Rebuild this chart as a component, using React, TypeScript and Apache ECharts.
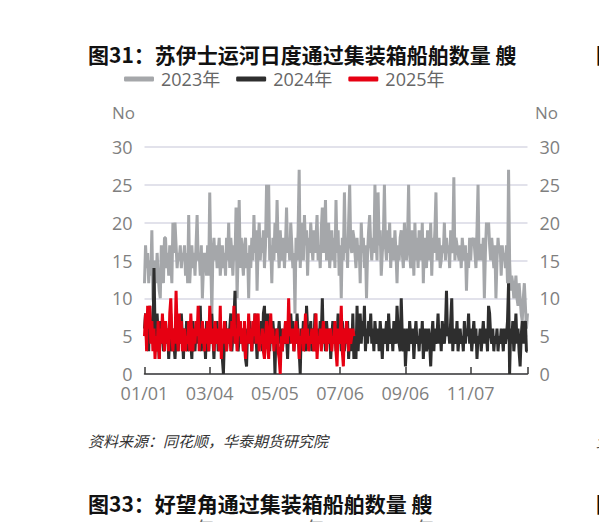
import React, { useEffect, useRef } from 'react';
import * as echarts from 'echarts';

// 2023年 日度通过数量（艘）
const Y2023 = [
  12, 17, 14, 16, 12, 15, 13, 19, 10, 9,
  15, 12, 16, 13, 11, 10, 17, 14, 12, 18,
  18, 14, 16, 13, 17, 15, 12, 20, 16, 20,
  17, 14, 16, 15, 17, 14, 16, 15, 17, 13,
  16, 12, 21, 12, 15, 17, 14, 16, 13, 17,
  21, 15, 16, 13, 17, 10, 14, 16, 15, 13,
  17, 13, 24, 15, 8, 16, 18, 15, 17, 14,
  16, 18, 13, 15, 17, 14, 16, 13, 18, 15,
  20, 14, 18, 16, 13, 17, 15, 22, 10, 16,
  23, 14, 18, 15, 13, 17, 18, 14, 16, 10,
  17, 14, 18, 15, 21, 16, 19, 11, 17, 20,
  15, 18, 16, 19, 14, 17, 25, 18, 25, 15,
  17, 12, 18, 15, 20, 16, 23, 17, 14, 19,
  16, 15, 18, 14, 17, 22, 16, 18, 15, 20,
  17, 14, 16, 8, 18, 15, 19, 27, 14, 18,
  20, 15, 21, 17, 19, 13, 18, 16, 20, 17,
  15, 19, 16, 18, 21, 15, 17, 14, 19, 22,
  16, 18, 23, 15, 17, 20, 14, 17, 19, 15,
  18, 14, 23, 16, 19, 13, 17, 10, 18, 15,
  24, 16, 18, 14, 20, 25, 17, 16, 19, 18,
  16, 14, 18, 15, 17, 12, 20, 16, 18, 14,
  17, 10, 16, 19, 21, 17, 15, 18, 16, 25,
  18, 15, 24, 17, 19, 13, 16, 18, 25, 17,
  15, 19, 16, 20, 14, 18, 17, 15, 19, 16,
  12, 17, 15, 18, 19, 16, 14, 20, 17, 15,
  18, 25, 16, 14, 19, 17, 13, 20, 15, 18,
  14, 19, 17, 15, 20, 12, 18, 16, 14, 19,
  17, 15, 20, 13, 18, 16, 19, 24, 15, 17,
  18, 14, 15, 17, 16, 20, 15, 18, 16, 17,
  14, 19, 16, 17, 26, 15, 18, 17, 16, 15,
  17, 14, 18, 16, 15, 17, 11, 16, 14, 18,
  15, 18, 17, 18, 16, 14, 19, 25, 15, 17,
  17, 15, 18, 10, 16, 20, 19, 20, 17, 15,
  18, 16, 14, 17, 10, 15, 18, 16, 17, 13,
  17, 15, 16, 14, 17, 12, 27, 15, 11, 13,
  12, 10, 11, 13, 10, 9, 12, 10, 8, 7,
  10, 12, 9, 6, 8,
];

// 2024年
const Y2024 = [
  6, 8, 4, 7, 3, 9, 5, 7, 4, 14,
  6, 3, 8, 5, 2, 7, 4, 6, 3, 5,
  7, 4, 6, 2, 5, 8, 3, 6, 4, 2,
  5, 7, 3, 6, 4, 8, 5, 2, 6, 4,
  7, 3, 5, 6, 4, 2, 7, 5, 3, 6,
  4, 7, 5, 9, 3, 6, 4, 5, 2, 7,
  5, 3, 6, 4, 8, 5, 2, 6, 4, 7,
  3, 5, 6, 4, 2, 0, 5, 7, 3, 6,
  4, 6, 8, 3, 5, 7, 11, 4, 6, 3,
  5, 7, 4, 6, 3, 5, 2, 1, 6, 4,
  7, 5, 3, 6, 4, 8, 5, 2, 6, 4,
  5, 7, 3, 8, 9, 4, 6, 8, 5, 3,
  6, 4, 7, 5, 0, 6, 3, 5, 7, 4,
  6, 3, 5, 4, 7, 5, 2, 6, 4, 8,
  5, 7, 3, 6, 4, 8, 5, 3, 0, 6,
  4, 7, 5, 3, 9, 6, 4, 5, 7, 3,
  6, 4, 8, 5, 3, 6, 4, 7, 5, 10,
  4, 6, 3, 7, 5, 4, 6, 2, 5, 7,
  4, 6, 3, 5, 8, 4, 6, 3, 7, 5,
  3, 6, 4, 7, 2, 5, 6, 3, 8, 2,
  5, 2, 9, 3, 6, 8, 4, 7, 5, 9,
  3, 6, 4, 7, 5, 8, 4, 6, 3, 7,
  5, 4, 6, 3, 7, 5, 2, 6, 4, 5,
  7, 3, 8, 5, 4, 6, 3, 7, 5, 4,
  9, 6, 4, 3, 10, 5, 3, 6, 1, 4,
  6, 3, 7, 5, 4, 6, 2, 5, 7, 4,
  5, 3, 6, 4, 7, 2, 5, 6, 3, 4,
  6, 4, 1, 5, 7, 3, 6, 4, 5, 8,
  4, 6, 3, 7, 5, 4, 6, 11, 5, 6,
  4, 7, 10, 3, 6, 5, 4, 7, 3, 5,
  6, 4, 5, 3, 7, 4, 6, 5, 8, 4,
  6, 3, 5, 7, 4, 6, 2, 5, 4, 6,
  3, 5, 7, 4, 6, 5, 3, 9, 8, 5,
  4, 6, 3, 5, 4, 6, 3, 5, 4, 6,
  5, 3, 6, 4, 5, 7, 12, 0, 6, 4,
  7, 3, 5, 8, 4, 6, 3, 1, 5, 7,
  4, 6, 7, 3, 3,
];

// 2025年（截至7月中旬）
const Y2025 = [
  5, 8, 3, 9, 6, 9, 4, 7, 3, 6,
  2, 5, 3, 7, 2, 6, 4, 8, 5, 3,
  7, 4, 6, 3, 8, 10, 5, 3, 6, 4,
  11, 6, 3, 8, 4, 7, 3, 5, 6, 3,
  5, 4, 7, 3, 8, 5, 3, 6, 4, 7,
  5, 9, 3, 6, 4, 7, 5, 3, 6, 4,
  7, 3, 9, 5, 4, 6, 3, 7, 5, 4,
  6, 3, 9, 2, 6, 4, 7, 5, 3, 6,
  4, 6, 3, 7, 5, 9, 4, 6, 3, 8,
  5, 7, 4, 6, 3, 7, 2, 5, 4, 8,
  4, 6, 3, 7, 5, 8, 4, 6, 8, 3,
  5, 4, 6, 3, 2, 5, 7, 4, 2, 6,
  8, 4, 6, 3, 5, 4, 6, 3, 2, 0,
  5, 3, 6, 4, 7, 5, 4, 10, 5, 6,
  4, 6, 3, 5, 7, 4, 6, 2, 5, 4,
  6, 3, 5, 8, 4, 6, 3, 5, 4, 6,
  5, 3, 6, 8, 2, 5, 4, 6, 3, 5,
  7, 4, 6, 3, 5, 6, 4, 6, 3, 5,
  4, 7, 3, 1, 6, 4, 5, 9, 3, 1,
  6, 4, 7, 5, 3, 6, 4, 5, 6, 5,
];

const SERIES_NAMES = ['2023年', '2024年', '2025年'];
const SERIES_COLORS = ['#a5a7aa', '#2e2e2e', '#e60012'];

// 日期类目 01/01 ~ 12/31
const MONTH_DAYS = [31, 28, 31, 30, 31, 30, 31, 31, 30, 31, 30, 31];
const pad = (n: number) => (n < 10 ? `0${n}` : `${n}`);
const DATES: string[] = [];
MONTH_DAYS.forEach((days, m) => {
  for (let d = 1; d <= days; d++) DATES.push(`${pad(m + 1)}/${pad(d)}`);
});

const FONT = '"Open Sans", "Noto Sans CJK SC", sans-serif';
const CJK = '"Noto Sans CJK SC", sans-serif';
const LABEL_GREY = '#7f7f7f';

const App: React.FC = () => {
  const chartRef = useRef<HTMLDivElement>(null);

  useEffect(() => {
    if (!chartRef.current) return;
    const chart = echarts.init(chartRef.current, null, { renderer: 'svg' });

    const txt = (text: string, x: number, y: number, extra: any = {}) => ({
      type: 'text',
      x,
      y,
      silent: true,
      style: {
        text,
        fill: '#111',
        fontFamily: CJK,
        fontSize: 21,
        fontWeight: 'bold',
        align: 'left',
        verticalAlign: 'middle',
        ...extra,
      },
    });
    const greyText = { fontFamily: FONT, fontSize: 18, fontWeight: 'normal', fill: '#666' };

    chart.setOption({
      animation: false,
      backgroundColor: '#fff',
      grid: { left: 144.5, right: 71.5, top: 147, bottom: 148 },
      legend: {
        data: SERIES_NAMES,
        left: 119,
        top: 65,
        itemWidth: 30,
        itemHeight: 5,
        itemGap: 16,
        icon: 'roundRect',
        textStyle: { color: '#666', fontSize: 18, fontFamily: FONT, padding: [0, 0, 0, 2] },
      },
      xAxis: {
        type: 'category',
        data: DATES,
        boundaryGap: false,
        axisLine: { lineStyle: { color: '#3a3a3a', width: 1.5 } },
        axisTick: {
          inside: true,
          length: 7,
          interval: (i: number) => i % 62 === 0 || i === DATES.length - 1,
          lineStyle: { color: '#3a3a3a', width: 1.5 },
        },
        axisLabel: {
          interval: (i: number) => i % 62 === 0,
          color: LABEL_GREY,
          fontSize: 18,
          lineHeight: 14,
          fontFamily: FONT,
          margin: 12,
        },
        splitLine: { show: false },
      },
      yAxis: [
        {
          type: 'value',
          min: 0,
          max: 30,
          interval: 5,
          axisLine: { show: false },
          axisTick: { show: false },
          axisLabel: { color: LABEL_GREY, fontSize: 18, lineHeight: 14, fontFamily: FONT, margin: 12 },
          splitLine: { lineStyle: { color: '#d9d9e4', width: 1.5 } },
        },
        {
          type: 'value',
          min: 0,
          max: 30,
          interval: 5,
          position: 'right',
          axisLine: { show: false },
          axisTick: { show: false },
          axisLabel: { color: LABEL_GREY, fontSize: 18, lineHeight: 14, fontFamily: FONT, margin: 12 },
          splitLine: { show: false },
        },
      ],
      series: [Y2023, Y2024, Y2025].map((values, i) => ({
        name: SERIES_NAMES[i],
        type: 'line',
        data: values,
        symbol: 'none',
        color: SERIES_COLORS[i],
        lineStyle: { color: SERIES_COLORS[i], width: 3 },
        z: 2 + i,
      })),
      graphic: [
        txt('图31：苏伊士运河日度通过集装箱船舶数量 艘', 88, 54),
        txt('No', 112, 112, { ...greyText, fontSize: 17, fill: LABEL_GREY }),
        txt('No', 535, 112, { ...greyText, fontSize: 17, fill: LABEL_GREY }),
        txt('资料来源：同花顺，华泰期货研究院', 88, 440, {
          fontSize: 15,
          fontWeight: 'normal',
          fontStyle: 'italic',
          fill: '#333',
        }),
        txt('图33：好望角通过集装箱船舶数量 艘', 88, 503),
        // 下一张图的图例，被页面底边裁切
        txt('2023年', 155, 528, greyText),
        txt('2024年', 265, 528, greyText),
        txt('2025年', 375, 528, greyText),
        // 右侧相邻图表被裁切的边缘
        txt('图', 596, 54),
        txt('资', 596, 440, { fontSize: 15, fontWeight: 'normal', fontStyle: 'italic', fill: '#333' }),
        txt('图', 596, 503),
      ],
    });

    return () => chart.dispose();
  }, []);

  return (
    <div
      ref={chartRef}
      style={{ position: 'fixed', left: 0, top: 0, width: 599, height: 522 }}
    />
  );
};

export default App;
